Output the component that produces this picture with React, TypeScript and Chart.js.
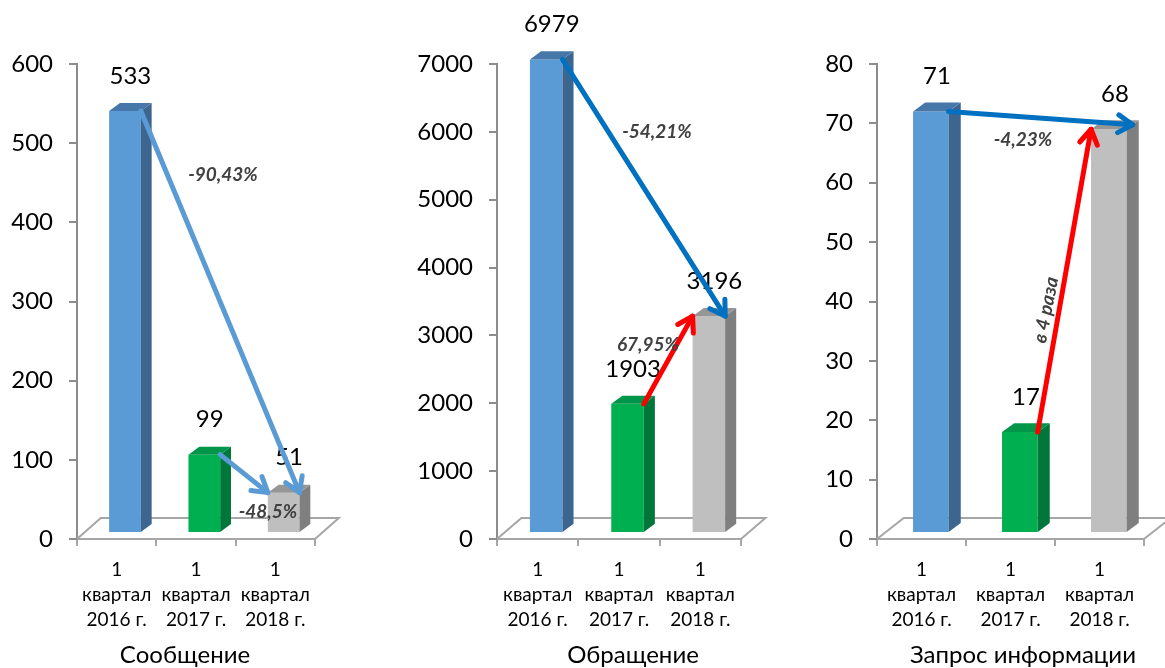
import React, { useEffect, useRef } from "react";
import { Chart, registerables } from "chart.js";

Chart.register(...registerables);

// ---------- data ----------
const quarterLabels = [
  ["1", "квартал", "2016 г."],
  ["1", "квартал", "2017 г."],
  ["1", "квартал", "2018 г."],
];
const messageValues = [533, 99, 51];
const appealValues = [6979, 1903, 3196];
const infoRequestValues = [71, 17, 68];
const axisMaxima = [600, 7000, 80];
const axisSteps = [100, 1000, 10];
const panelTitles = ["Сообщение", "Обращение", "Запрос информации"];
const messageChanges = ["-90,43%", "-48,5%"];
const appealChanges = ["-54,21%", "67,95%"];
const infoRequestChanges = ["-4,23%", "в 4 раза"];

// ---------- styles ----------
const frontColors = ["#5B9BD5", "#00B050", "#BFBFBF"];
const sideColors = ["#3C6590", "#00773A", "#7F7F7F"];
const topColors = ["#4677A8", "#00964A", "#969696"];
const FONT = "Lato, 'Open Sans', sans-serif";
const PLOT_TOP = 64;
const PLOT_BOTTOM = 539;
const PAGE_H = 668;

type ArrowSpec = { from: number; fromCorner: string; to: number; toCorner: string; color: string };
type NoteSpec = { text: string; x: number; y: number; rotate?: number };
type Panel = {
  values: number[];
  max: number;
  step: number;
  title: string;
  left: number;
  width: number;
  axisLeft: number;
  axisRight: number;
  titleX: number;
  arrows: ArrowSpec[];
  notes: NoteSpec[];
};

const panels: Panel[] = [
  {
    values: messageValues,
    max: axisMaxima[0],
    step: axisSteps[0],
    title: panelTitles[0],
    left: 0,
    width: 390,
    axisLeft: 77,
    axisRight: 315,
    titleX: 185,
    arrows: [
      { from: 0, fromCorner: "ftr", to: 2, toCorner: "ftr", color: "#5B9BD5" },
      { from: 1, fromCorner: "ftr", to: 2, toCorner: "ftl", color: "#5B9BD5" },
    ],
    notes: [
      { text: messageChanges[0], x: 223, y: 175 },
      { text: messageChanges[1], x: 268, y: 512 },
    ],
  },
  {
    values: appealValues,
    max: axisMaxima[1],
    step: axisSteps[1],
    title: panelTitles[1],
    left: 400,
    width: 390,
    axisLeft: 97,
    axisRight: 341,
    titleX: 233,
    arrows: [
      { from: 0, fromCorner: "ftr", to: 2, toCorner: "ftr", color: "#0070C0" },
      { from: 1, fromCorner: "ftr", to: 2, toCorner: "ftl", color: "#FF0000" },
    ],
    notes: [
      { text: appealChanges[0], x: 257, y: 132 },
      { text: appealChanges[1], x: 248, y: 345 },
    ],
  },
  {
    values: infoRequestValues,
    max: axisMaxima[2],
    step: axisSteps[2],
    title: panelTitles[2],
    left: 790,
    width: 375,
    axisLeft: 87,
    axisRight: 354,
    titleX: 233,
    arrows: [
      { from: 0, fromCorner: "ftr", to: 2, toCorner: "mtr", color: "#0070C0" },
      { from: 1, fromCorner: "ftr", to: 2, toCorner: "ftl", color: "#FF0000" },
    ],
    notes: [
      { text: infoRequestChanges[0], x: 233, y: 140 },
      { text: infoRequestChanges[1], x: 256, y: 310, rotate: -79 },
    ],
  },
];

function drawArrow(ctx: CanvasRenderingContext2D, x1: number, y1: number, x2: number, y2: number, color: string) {
  const ang = Math.atan2(y2 - y1, x2 - x1);
  const head = 17;
  const spread = 0.55;
  ctx.save();
  ctx.strokeStyle = color;
  ctx.lineWidth = 5;
  ctx.lineCap = "round";
  ctx.lineJoin = "round";
  ctx.beginPath();
  ctx.moveTo(x1, y1);
  ctx.lineTo(x2, y2);
  ctx.stroke();
  ctx.beginPath();
  ctx.moveTo(x2 - head * Math.cos(ang - spread), y2 - head * Math.sin(ang - spread));
  ctx.lineTo(x2, y2);
  ctx.lineTo(x2 - head * Math.cos(ang + spread), y2 - head * Math.sin(ang + spread));
  ctx.stroke();
  ctx.restore();
}

function makePlugin(panel: Panel) {
  const geom = (chart: any) => {
    const area = chart.chartArea;
    const cw = (area.right - area.left) / panel.values.length;
    return { area, cw, shiftX: 0.105 * cw, shiftY: -6, floorDx: 0.3 * cw, floorDy: -21 };
  };
  const barBox = (chart: any, i: number) => {
    const g = geom(chart);
    const el = chart.getDatasetMeta(0).data[i];
    const p = el.getProps(["x", "y", "base", "width"], true);
    const dx = 0.34 * p.width;
    const dy = -0.25 * p.width;
    return {
      xL: p.x - p.width / 2 + g.shiftX,
      xR: p.x + p.width / 2 + g.shiftX,
      yT: p.y + g.shiftY,
      yB: p.base + g.shiftY,
      dx,
      dy,
    };
  };
  const corner = (chart: any, i: number, c: string) => {
    const b = barBox(chart, i);
    if (c === "ftl") return [b.xL, b.yT];
    if (c === "mtr") return [b.xR + b.dx / 2, b.yT + b.dy / 2];
    return [b.xR, b.yT];
  };
  return {
    id: "bars3d",
    beforeDatasetsDraw(chart: any) {
      const ctx: CanvasRenderingContext2D = chart.ctx;
      const g = geom(chart);
      const a = g.area;
      ctx.save();
      ctx.strokeStyle = "#A6A6A6";
      ctx.lineWidth = 2;
      ctx.beginPath();
      ctx.moveTo(a.left, a.bottom);
      ctx.lineTo(a.left + g.floorDx, a.bottom + g.floorDy);
      ctx.lineTo(a.right + g.floorDx, a.bottom + g.floorDy);
      ctx.lineTo(a.right, a.bottom);
      ctx.stroke();
      ctx.restore();
      ctx.save();
      ctx.translate(g.shiftX, g.shiftY);
    },
    afterDatasetsDraw(chart: any) {
      const ctx: CanvasRenderingContext2D = chart.ctx;
      ctx.restore();
      const n = panel.values.length;
      // side and top faces
      for (let i = 0; i < n; i++) {
        const b = barBox(chart, i);
        ctx.fillStyle = sideColors[i];
        ctx.beginPath();
        ctx.moveTo(b.xR, b.yT);
        ctx.lineTo(b.xR + b.dx, b.yT + b.dy);
        ctx.lineTo(b.xR + b.dx, b.yB + b.dy);
        ctx.lineTo(b.xR, b.yB);
        ctx.closePath();
        ctx.fill();
        ctx.fillStyle = topColors[i];
        ctx.beginPath();
        ctx.moveTo(b.xL, b.yT);
        ctx.lineTo(b.xL + b.dx, b.yT + b.dy);
        ctx.lineTo(b.xR + b.dx, b.yT + b.dy);
        ctx.lineTo(b.xR, b.yT);
        ctx.closePath();
        ctx.fill();
      }
      // value labels
      ctx.save();
      ctx.fillStyle = "#000";
      ctx.font = `24px ${FONT}`;
      ctx.textAlign = "center";
      ctx.textBaseline = "middle";
      for (let i = 0; i < n; i++) {
        const b = barBox(chart, i);
        ctx.fillText(String(panel.values[i]), (b.xL + b.xR + b.dx) / 2, b.yT - 35);
      }
      ctx.restore();
      // arrows
      for (const ar of panel.arrows) {
        const [x1, y1] = corner(chart, ar.from, ar.fromCorner);
        const [x2, y2] = corner(chart, ar.to, ar.toCorner);
        drawArrow(ctx, x1, y1, x2, y2, ar.color);
      }
      // change notes
      ctx.save();
      ctx.fillStyle = "#404040";
      ctx.font = `italic bold 19px ${FONT}`;
      ctx.textAlign = "center";
      ctx.textBaseline = "middle";
      for (const nt of panel.notes) {
        ctx.save();
        ctx.translate(nt.x, nt.y);
        if (nt.rotate) ctx.rotate((nt.rotate * Math.PI) / 180);
        ctx.fillText(nt.text, 0, 0);
        ctx.restore();
      }
      ctx.restore();
      // title
      ctx.save();
      ctx.fillStyle = "#000";
      ctx.font = `24px ${FONT}`;
      ctx.textAlign = "center";
      ctx.textBaseline = "middle";
      ctx.fillText(panel.title, panel.titleX, 655);
      ctx.restore();
    },
  };
}

function PanelChart({ panel }: { panel: Panel }) {
  const ref = useRef<HTMLCanvasElement | null>(null);
  useEffect(() => {
    if (!ref.current) return;
    const chart = new Chart(ref.current, {
      type: "bar",
      data: {
        labels: quarterLabels,
        datasets: [
          {
            data: panel.values,
            backgroundColor: frontColors,
            borderWidth: 0,
            barPercentage: 0.4,
            categoryPercentage: 1,
          },
        ],
      },
      options: {
        responsive: false,
        animation: false,
        events: [],
        layout: { padding: { left: 0, right: panel.width - panel.axisRight, top: PLOT_TOP, bottom: 0 } },
        plugins: { legend: { display: false }, tooltip: { enabled: false }, title: { display: false } },
        scales: {
          x: {
            afterFit: (s: any) => {
              s.height = PAGE_H - PLOT_BOTTOM;
            },
            ticks: {
              color: "#000",
              font: { family: FONT, size: 19, lineHeight: 1.3 },
              padding: 12,
              maxRotation: 0,
              autoSkip: false,
            },
            grid: { offset: true, drawOnChartArea: false, tickLength: 7, color: "#A6A6A6", lineWidth: 2 },
            border: { color: "#A6A6A6", width: 2 },
          },
          y: {
            min: 0,
            max: panel.max,
            afterFit: (s: any) => {
              s.width = panel.axisLeft;
            },
            ticks: {
              stepSize: panel.step,
              color: "#000",
              font: { family: FONT, size: 24 },
              padding: 16,
              callback: (v: any) => String(v),
            },
            grid: { drawOnChartArea: false, tickLength: 8, color: "#8C8C8C", lineWidth: 2 },
            border: { color: "#8C8C8C", width: 2 },
          },
        },
      },
      plugins: [makePlugin(panel)],
    });
    return () => chart.destroy();
  }, [panel]);
  return (
    <div style={{ position: "absolute", left: panel.left, top: 0, width: panel.width, height: PAGE_H }}>
      <canvas ref={ref} width={panel.width} height={PAGE_H} style={{ display: "block" }} />
    </div>
  );
}

export default function App() {
  return (
    <div
      style={{
        position: "absolute",
        left: 0,
        top: 0,
        width: 1165,
        height: PAGE_H,
        background: "#fff",
        overflow: "hidden",
      }}
    >
      {panels.map((p, i) => (
        <PanelChart key={i} panel={p} />
      ))}
    </div>
  );
}
